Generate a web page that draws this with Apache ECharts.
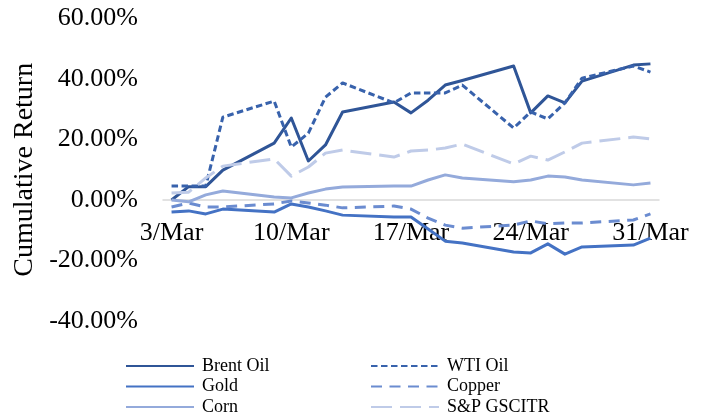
<!DOCTYPE html>
<html>
<head>
<meta charset="utf-8">
<script src="https://cdn.jsdelivr.net/npm/echarts@6/dist/echarts.min.js"></script>
<style>
html,body{margin:0;padding:0;background:#fff;}
#chart{width:704px;height:416px;}
</style>
</head>
<body>
<div id="chart"></div>
<script>
// Calendar days of March shown on the date axis (3 to 31); weekends have no data.
var days = ['3/Mar','4/Mar','5/Mar','6/Mar','7/Mar','8/Mar','9/Mar','10/Mar','11/Mar','12/Mar','13/Mar','14/Mar','15/Mar','16/Mar','17/Mar','18/Mar','19/Mar','20/Mar','21/Mar','22/Mar','23/Mar','24/Mar','25/Mar','26/Mar','27/Mar','28/Mar','29/Mar','30/Mar','31/Mar'];
var yTicks = [-40, -20, 0, 20, 40, 60];

// Cumulative returns in percent
var brentOil = [0, 4.4, 4.4, 9.9, null, null, 18.8, 27.1, 12.9, 18.2, 29.1, null, null, 32.4, 28.8, 33.0, 38.0, 39.5, null, null, 44.3, 28.8, 34.4, 32.1, 39.3, null, null, 44.6, 45.0];
var wtiOil   = [4.6, 4.6, 4.6, 27.4, null, null, 32.7, 17.5, 22.1, 34.0, 38.7, null, null, 32.1, 35.4, 35.4, 35.4, 38.0, null, null, 23.8, 29.1, 26.8, 32.1, 40.3, null, null, 44.3, 42.3];
var gold     = [-4.0, -3.6, -4.6, -3.0, null, null, -4.0, -1.3, -2.3, -3.6, -5.0, null, null, -5.6, -5.6, -9.6, -13.6, -14.2, null, null, -17.2, -17.5, -14.5, -17.9, -15.5, null, null, -14.9, -12.6];
var copper   = [-2.3, -1.0, -2.3, -2.3, null, null, -1.3, -0.3, -1.0, -1.7, -2.6, null, null, -2.0, -3.0, -6.0, -8.3, -9.3, null, null, -8.3, -6.9, -7.9, -7.6, -7.6, null, null, -6.6, -4.6];
var corn     = [0, -0.6, 1.7, 3.0, null, null, 1.0, 0.7, 2.3, 3.6, 4.3, null, null, 4.6, 4.6, 6.6, 8.3, 7.3, null, null, 6.0, 6.6, 7.9, 7.6, 6.6, null, null, 5.0, 5.6];
var gscitr   = [2.3, 2.6, 7.3, 11.2, null, null, 13.6, 7.9, 10.9, 15.5, 16.5, null, null, 14.2, 16.2, 16.5, 17.2, 18.5, null, null, 11.9, 14.5, 13.2, 15.9, 18.8, null, null, 20.8, 20.2];

var FONT = '"Liberation Serif", "Times New Roman", serif';

function mk(name, data, color, type, width) {
  return {
    name: name, type: 'line', data: data, connectNulls: true,
    symbol: 'none', showSymbol: false, smooth: false,
    lineStyle: { color: color, width: width, type: type, cap: 'butt', join: 'round' },
    itemStyle: { color: color },
    emphasis: { disabled: true }, animation: false
  };
}

var chart = echarts.init(document.getElementById('chart'), null, { renderer: 'canvas' });
var legendText = { fontFamily: FONT, fontSize: 18, color: '#000', lineHeight: 18, padding: [0, 0, 0, 3] };
function legendAt(names, left) {
  return {
    data: names, orient: 'vertical', left: left, top: 357, height: 59, padding: 0,
    itemWidth: 68, itemHeight: 12, itemGap: 2.5, textStyle: legendText, selectedMode: false,
    itemStyle: { opacity: 0 }
  };
}
chart.setOption({
  animation: false,
  backgroundColor: '#fff',
  grid: { left: 163, right: 45, top: 18.5, bottom: 95 },
  legend: [
    legendAt(['Brent Oil', 'Gold', 'Corn'], 125),
    legendAt(['WTI Oil', 'Copper', 'S&P GSCITR'], 370)
  ],
  xAxis: {
    type: 'category', data: days, boundaryGap: true, offset: -121,
    axisLine: { onZero: false, lineStyle: { color: '#D9D9D9', width: 1.5 } },
    axisTick: { show: false },
    axisLabel: { interval: 6, fontFamily: FONT, fontSize: 26, color: '#000', margin: 20 },
    splitLine: { show: false }
  },
  yAxis: {
    type: 'value', min: yTicks[0], max: yTicks[yTicks.length - 1], interval: 20,
    name: 'Cumulative Return', nameLocation: 'middle', nameRotate: 90, nameGap: 123,
    nameTextStyle: { fontFamily: FONT, fontSize: 28, color: '#000' },
    axisLine: { show: false }, axisTick: { show: false }, splitLine: { show: false },
    axisLabel: { fontFamily: FONT, fontSize: 26, color: '#000', margin: 25,
      formatter: function (v) { return v.toFixed(2) + '%'; } }
  },
  series: [
    mk('Brent Oil', brentOil, '#2F5597', 'solid', 3),
    mk('WTI Oil', wtiOil, '#3862AC', [6.5, 3.5], 3),
    mk('Gold', gold, '#4472C4', 'solid', 3),
    mk('Copper', copper, '#6B8CD0', [11, 7.5], 3),
    mk('Corn', corn, '#94AADB', 'solid', 3),
    mk('S&P GSCITR', gscitr, '#BFCBE8', [21, 8], 3)
  ]
});
</script>
</body>
</html>
